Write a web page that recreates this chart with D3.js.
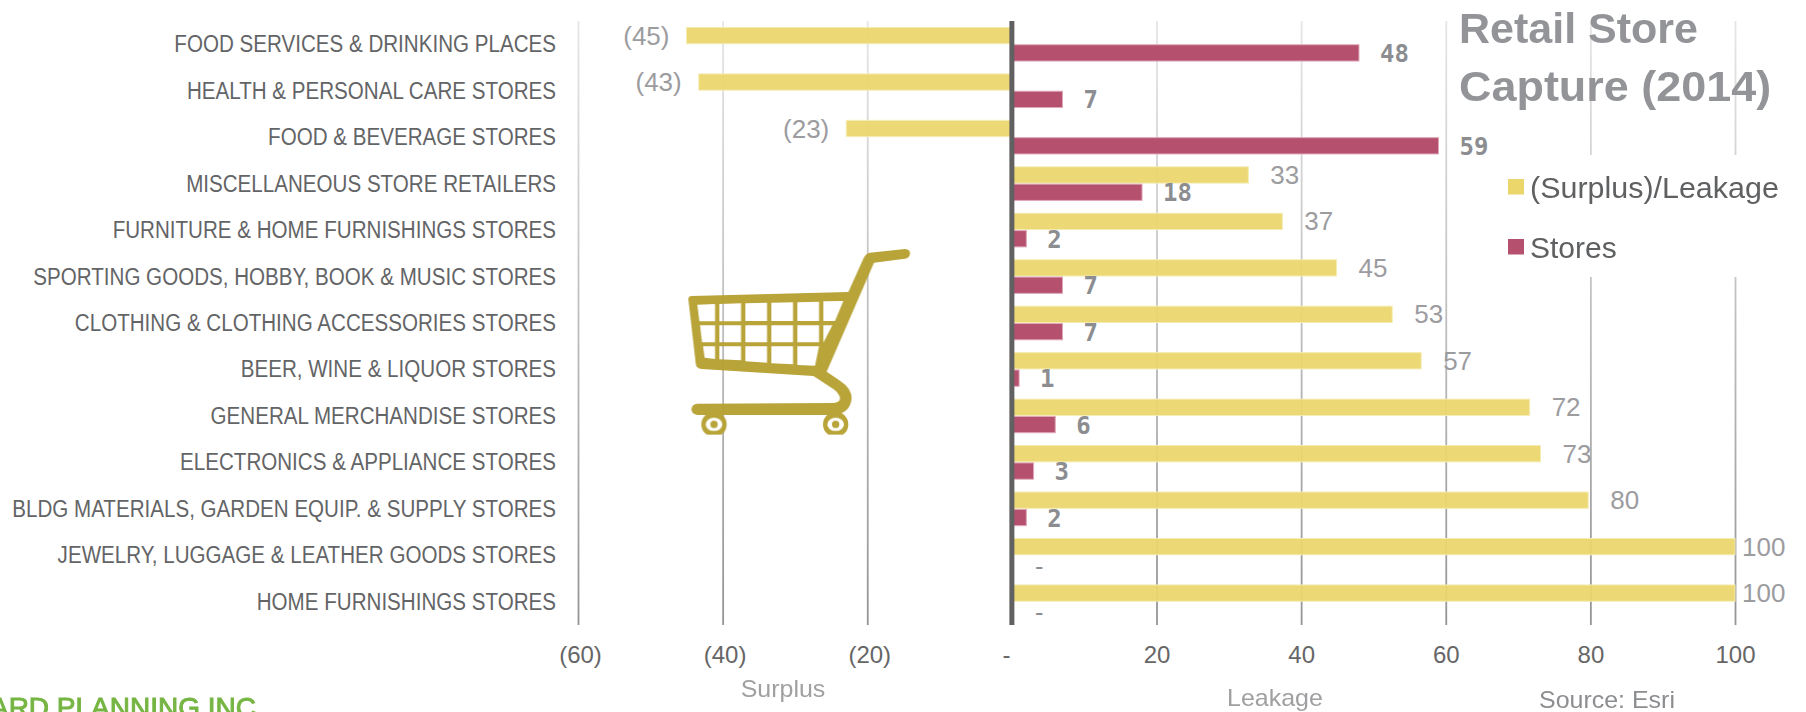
<!DOCTYPE html>
<html><head><meta charset="utf-8">
<script src="https://cdn.jsdelivr.net/npm/d3@7/dist/d3.min.js"></script>
<style>html,body{margin:0;padding:0;background:#fff;overflow:hidden}svg{display:block}text{font-family:"Liberation Sans",sans-serif}</style>
</head><body><svg id="c" width="1806" height="712"></svg>
<script>
const categories=["FOOD SERVICES & DRINKING PLACES","HEALTH & PERSONAL CARE STORES","FOOD & BEVERAGE STORES","MISCELLANEOUS STORE RETAILERS","FURNITURE & HOME FURNISHINGS STORES","SPORTING GOODS, HOBBY, BOOK & MUSIC STORES","CLOTHING & CLOTHING ACCESSORIES STORES","BEER, WINE & LIQUOR STORES","GENERAL MERCHANDISE STORES","ELECTRONICS & APPLIANCE STORES","BLDG MATERIALS, GARDEN EQUIP. & SUPPLY STORES","JEWELRY, LUGGAGE & LEATHER GOODS STORES","HOME FURNISHINGS STORES"];
const surplusLeakage=[-45,-43.3,-22.9,32.7,37.4,44.9,52.6,56.6,71.6,73.1,79.7,100,100];
const stores=[48,7,59,18,2,7,7,1,6,3,2,0,0];
const xTicks=[-60,-40,-20,0,20,40,60,80,100];
const seriesNames=["(Surplus)/Leakage","Stores"];
const seriesColors=["#ebd66b","#b5506f"];
const titleLines=["Retail Store","Capture (2014)"];

const svg=d3.select("#c");
const xLeft=578,xRight=1735,yTop=21,yBottom=625;
const x=d3.scaleLinear().domain([-60,100]).range([xLeft,xRight]);
const y=d3.scaleBand().domain(categories).range([yTop,yBottom]);
const y1=d3.scaleBand().domain(seriesNames).range([0,y.bandwidth()]).paddingInner(.06).paddingOuter(.37);
const fmt=v=>v===0?"-":v<0?`(${Math.abs(Math.round(v))})`:String(Math.round(v));
function narrow(sel,f){sel.each(function(d,i){const k=typeof f==="function"?f(d,i):f;const l=this.getComputedTextLength();this.setAttribute("textLength",l*k);this.setAttribute("lengthAdjust","spacingAndGlyphs");});return sel;}

const defs=svg.append("defs");
const g=defs.append("linearGradient").attr("id","grid").attr("gradientUnits","userSpaceOnUse").attr("x1",0).attr("x2",0).attr("y1",yTop-yBottom).attr("y2",0);
[[0,"#e6e6e6"],[.5,"#bebebe"],[1,"#949494"]].forEach(s=>g.append("stop").attr("offset",s[0]).attr("stop-color",s[1]));
defs.append("clipPath").attr("id","wheelClip").append("rect").attr("x",0).attr("y",0).attr("width",840).attr("height",643);

// x axis with gridlines
const xAxis=svg.append("g").attr("transform",`translate(0,${yBottom})`)
  .call(d3.axisBottom(x).tickValues(xTicks).tickFormat(fmt).tickSizeInner(-(yBottom-yTop)).tickSizeOuter(0).tickPadding(19));
xAxis.select(".domain").remove();
xAxis.selectAll("line").attr("x1",.01).attr("stroke","url(#grid)").attr("stroke-width",1.8).filter(d=>d===0).remove();
xAxis.selectAll("text").attr("fill","#666").attr("font-size",24).attr("dominant-baseline","central").attr("dy",0).attr("y",29)
  .attr("dx",d=>d<0?2:d===0?-6:0);

// y axis labels
const yAxis=svg.append("g").attr("transform",`translate(${xLeft},0)`)
  .call(d3.axisLeft(y).tickSize(0).tickPadding(22));
yAxis.select(".domain").remove();
yAxis.selectAll("text").attr("fill","#636466").attr("font-size",23).attr("dy",0).attr("dominant-baseline","central");
narrow(yAxis.selectAll("text"),.895);

const rows=svg.append("g").selectAll("g").data(categories).join("g").attr("transform",d=>`translate(0,${y(d)})`);
rows.append("rect").attr("class","s1")
  .attr("x",(d,i)=>x(Math.min(0,surplusLeakage[i]))).attr("width",(d,i)=>Math.abs(x(surplusLeakage[i])-x(0)))
  .attr("y",y1(seriesNames[0])).attr("height",y1.bandwidth())
  .attr("fill",seriesColors[0]).attr("fill-opacity",.94).attr("stroke","#f5ecb4").attr("stroke-width",1);
rows.append("rect").attr("class","s2")
  .attr("x",x(0)).attr("width",(d,i)=>x(stores[i])-x(0))
  .attr("y",y1(seriesNames[1])).attr("height",y1.bandwidth())
  .attr("fill",seriesColors[1]).attr("stroke","#dfa9ba").attr("stroke-width",(d,i)=>stores[i]?1:0);
rows.append("text")
  .attr("x",(d,i)=>{const v=surplusLeakage[i];return v<0?x(v)-17:Math.min(x(v)+22,x(100)+7)})
  .attr("text-anchor",(d,i)=>surplusLeakage[i]<0?"end":"start")
  .attr("y",y1(seriesNames[0])+y1.bandwidth()/2).attr("dominant-baseline","central")
  .attr("fill","#9c9c9f").attr("font-size",26).text((d,i)=>fmt(surplusLeakage[i]));
rows.append("text")
  .attr("x",(d,i)=>x(stores[i])+(stores[i]?21:20)).attr("y",(d,i)=>y1(seriesNames[1])+y1.bandwidth()/2+(stores[i]?1:3)).attr("dominant-baseline","central")
  .attr("fill","#8c8d90").attr("font-size",24).attr("font-weight",(d,i)=>stores[i]?700:400).style("font-family",'"DejaVu Sans Mono","Liberation Mono",monospace')
  .text((d,i)=>fmt(stores[i]));

// zero axis
svg.append("line").attr("x1",x(0)).attr("x2",x(0)).attr("y1",yTop).attr("y2",yBottom).attr("stroke","#616161").attr("stroke-width",5);

// shopping cart
const cartD="M85 238Q85 228 95 228L565 216L612 112Q618 100 630 98L735 87Q752 88 750 102Q748 114 735 116L642 128L500 455L540 482Q575 505 575 535Q572 575 530 585L112 585Q95 583 94 568Q96 552 112 551L520 549Q540 548 540 535Q538 520 520 507L460 468L125 447Q108 446 107 430Z"
+"M112 254L165 252V304H118ZM178 252L243 250V304H178ZM256 250L321 248V303H256ZM334 248L399 247V303H334ZM412 247L477 245V303H412ZM490 244L550 243L525 303H490Z"
+"M120 316H165V367H126ZM178 316H243V367H178ZM256 316H321V367H256ZM334 316H399V367H334ZM412 316H477V367H412ZM490 316H517L490 368Z"
+"M129 379H165V417L134 413ZM178 379H243V421L178 418ZM256 379H321V428L256 424ZM334 379H399V433L334 430ZM412 379H477L465 437L412 435Z";
const cart=svg.append("g").attr("transform","translate(660,220) scale(0.3333)").attr("opacity",.96);
cart.append("path").attr("d",cartD).attr("fill","#b5a030").attr("fill-rule","evenodd");
[162,527].forEach(cx=>{const w=cart.append("g").attr("clip-path","url(#wheelClip)");
  w.append("circle").attr("cx",cx).attr("cy",613).attr("r",38).attr("fill","#b5a030");
  w.append("ellipse").attr("cx",cx).attr("cy",613).attr("rx",25).attr("ry",20).attr("fill","#fff");
  w.append("circle").attr("cx",cx).attr("cy",613).attr("r",11).attr("fill","#b5a030");});

// legend
svg.append("rect").attr("x",1500).attr("y",155).attr("width",306).attr("height",122).attr("fill","#fff");
const lg=svg.append("g").selectAll("g").data(seriesNames).join("g");
lg.append("rect").attr("x",1508).attr("y",(d,i)=>179+i*60).attr("width",16).attr("height",15.5).attr("fill",(d,i)=>seriesColors[i]);
const lt=lg.append("text").attr("x",1530).attr("y",(d,i)=>187+i*60).attr("dominant-baseline","central").attr("fill","#5f6062").attr("font-size",30).text(d=>d);
narrow(lt,(d,i)=>i?1.0:1.015);

// title
const tt=svg.append("g").selectAll("text").data(titleLines).join("text").attr("x",1459).attr("y",(d,i)=>43+i*57.5)
  .attr("fill","#929497").attr("font-size",43).attr("font-weight",700).text(d=>d);
narrow(tt,(d,i)=>i?1.045:1);

// annotations
const notes=[["Surplus",783,688,"#a0a0a2"],["Leakage",1275,697,"#a0a0a2"],["Source: Esri",1607,699,"#8c8d90"]];
const nt=svg.append("g").selectAll("text").data(notes).join("text").attr("x",d=>d[1]).attr("y",d=>d[2]).attr("text-anchor","middle")
  .attr("dominant-baseline","central").attr("fill",d=>d[3]).attr("font-size",24).text(d=>d[0]);
narrow(nt,1.04);
svg.append("text").attr("x",256).attr("y",717).attr("text-anchor","end").attr("fill","#76b543").attr("font-size",28).style("stroke","#76b543").style("stroke-width",1).text("ARD PLANNING INC");
</script></body></html>
